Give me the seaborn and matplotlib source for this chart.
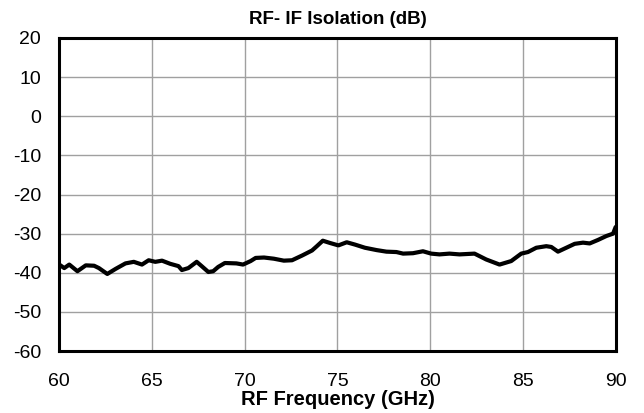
import pandas as pd
import matplotlib.pyplot as plt
import seaborn as sns

# Data
freq_ghz = [60.0, 60.27, 60.54, 60.98, 61.43, 61.88, 62.14, 62.59, 63.04, 63.57,
            64.02, 64.46, 64.82, 65.18, 65.54, 65.98, 66.43, 66.61, 66.96, 67.41,
            67.68, 68.04, 68.30, 68.57, 68.93, 69.55, 69.91, 70.32, 70.59, 71.04,
            71.57, 72.11, 72.55, 73.09, 73.63, 73.89, 74.21, 74.61, 75.05, 75.5,
            75.95, 76.48, 77.11, 77.64, 78.18, 78.54, 79.07, 79.61, 80.05, 80.5,
            81.04, 81.58, 82.39, 83.02, 83.74, 84.37, 84.91, 85.27, 85.72, 86.26,
            86.53, 86.89, 87.34, 87.79, 88.24, 88.6, 89.05, 89.5, 89.86, 90.0]
isolation_db = [-37.9, -38.8, -37.9, -39.6, -38.1, -38.2, -38.8, -40.3, -39.0, -37.6,
                -37.2, -37.9, -36.8, -37.2, -36.9, -37.7, -38.3, -39.3, -38.8, -37.2,
                -38.3, -39.8, -39.6, -38.5, -37.5, -37.6, -37.9, -37.0, -36.2, -36.1,
                -36.4, -36.9, -36.8, -35.6, -34.3, -33.2, -31.8, -32.4, -33.0, -32.2,
                -32.8, -33.6, -34.2, -34.6, -34.7, -35.1, -35.0, -34.5, -35.1, -35.3,
                -35.1, -35.3, -35.1, -36.6, -37.9, -37.0, -35.1, -34.7, -33.6, -33.2,
                -33.4, -34.6, -33.6, -32.6, -32.3, -32.5, -31.6, -30.6, -30.0, -28.3]
x_ticks = [60, 65, 70, 75, 80, 85, 90]
y_ticks = [-60, -50, -40, -30, -20, -10, 0, 10, 20]

df = pd.DataFrame({"freq": freq_ghz, "iso": isolation_db})

sns.set_style("white", {"text.color": "black", "xtick.color": "black",
                        "ytick.color": "black", "axes.labelcolor": "black"})
plt.rcParams["font.family"] = ["Liberation Sans", "DejaVu Sans"]
plt.rcParams["axes.unicode_minus"] = False

fig, ax = plt.subplots(figsize=(6.44, 4.13), dpi=100)
fig.subplots_adjust(left=0.092, right=0.956, top=0.908, bottom=0.150)

sns.lineplot(data=df, x="freq", y="iso", color="black", linewidth=3, ax=ax)

ax.set_xlim(60, 90)
ax.set_ylim(-60, 20)
ax.set_xticks(x_ticks)
ax.set_yticks(y_ticks)
ax.grid(True, color="#a0a0a0", linewidth=1)
for s in ax.spines.values():
    s.set_color("black")
    s.set_linewidth(2.2)
ax.tick_params(labelsize=14, length=0, labelcolor="black")
ax.tick_params(axis="y", pad=13)
ax.tick_params(axis="x", pad=15.5)
ax.set_title("RF- IF Isolation (dB)", fontsize=13.5, fontweight="bold",
             pad=10, color="black")
ax.set_xlabel("RF Frequency (GHz)", fontsize=14.5, fontweight="bold",
              labelpad=0.5, color="black")
ax.set_ylabel("")

fig.savefig("out.png", dpi=100)
